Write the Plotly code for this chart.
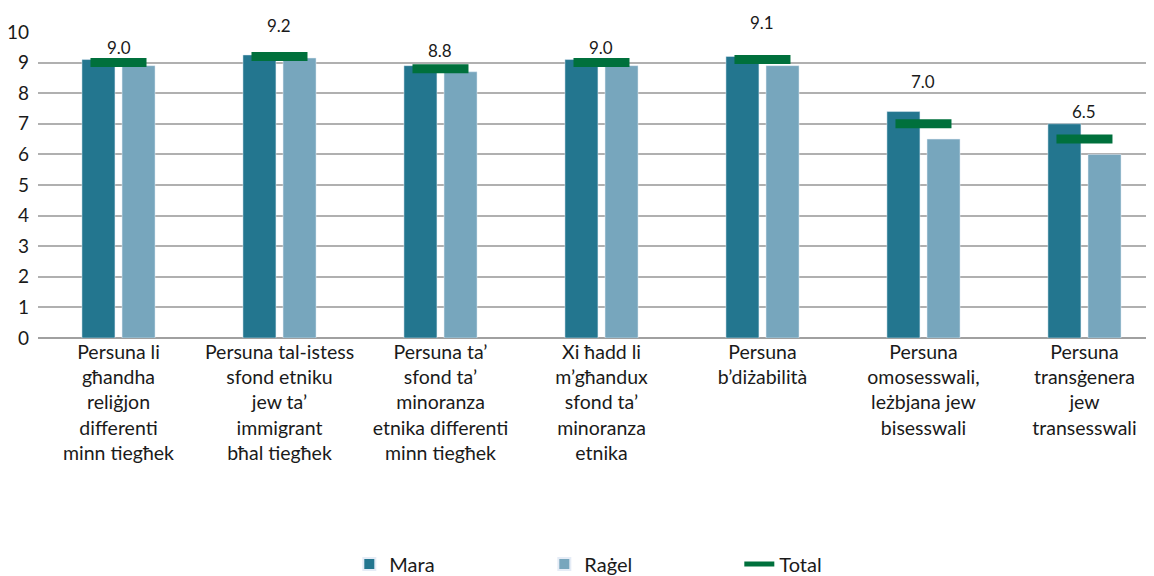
import plotly.graph_objects as go

# categories (Maltese labels, wrapped as in the original)
categories = [
    "Persuna li<br>għandha<br>reliġjon<br>differenti<br>minn tiegħek",
    "Persuna tal-istess<br>sfond etniku<br>jew ta’<br>immigrant<br>bħal tiegħek",
    "Persuna ta’<br>sfond ta’<br>minoranza<br>etnika differenti<br>minn tiegħek",
    "Xi ħadd li<br>m’għandux<br>sfond ta’<br>minoranza<br>etnika",
    "Persuna<br>b’diżabilità",
    "Persuna<br>omosesswali,<br>leżbjana jew<br>bisesswali",
    "Persuna<br>transġenera<br>jew<br>transesswali",
]

mara = [9.1, 9.25, 8.9, 9.1, 9.2, 7.4, 7.0]
ragel = [8.9, 9.15, 8.7, 8.9, 8.9, 6.5, 6.0]
total = [9.0, 9.2, 8.8, 9.0, 9.1, 7.0, 6.5]
total_labels = ["9.0", "9.2", "8.8", "9.0", "9.1", "7.0", "6.5"]

# pixel offset of each value label above its total marker
label_shift = [15, 31, 18, 15, 37, 42, 28]

MARA_COL = "#23768f"
RAGEL_COL = "#77a6bd"
TOTAL_COL = "#00703c"
FONT = "Lato, 'Noto Sans', sans-serif"

fig = go.Figure()

fig.add_trace(go.Bar(
    x=categories, y=mara, name="Mara",
    marker_color=MARA_COL, width=0.205, offset=-0.227,
))
fig.add_trace(go.Bar(
    x=categories, y=ragel, name="Raġel",
    marker_color=RAGEL_COL, width=0.205, offset=0.022,
))

# total shown as a thick horizontal dash
fig.add_trace(go.Scatter(
    x=categories, y=total, mode="markers", showlegend=False,
    marker=dict(symbol="line-ew", size=40,
                line=dict(width=9, color=TOTAL_COL)),
    hoverinfo="y",
))
# legend entry for total
fig.add_trace(go.Scatter(
    x=[None], y=[None], mode="lines", name="Total",
    line=dict(color=TOTAL_COL, width=8),
))

for cat, val, txt, sh in zip(categories, total, total_labels, label_shift):
    fig.add_annotation(
        x=cat, y=val, text=txt, showarrow=False,
        yshift=sh, font=dict(size=17, color="#1a1a1a", family=FONT),
    )

# page body has an 8px default margin, so the figure is sized to fit
fig.update_layout(
    width=1146, height=568,
    barmode="overlay",
    paper_bgcolor="white", plot_bgcolor="white",
    margin=dict(l=30, r=4, t=24, b=238),
    font=dict(family=FONT, size=19.5, color="#1a1a1a"),
    xaxis=dict(
        range=[-0.5, 6.407],
        showgrid=False, ticks="", tickfont=dict(size=19.5),
        showline=False, automargin=False,
    ),
    yaxis=dict(
        range=[0, 10], dtick=1, showgrid=True,
        gridcolor="#b0b0b0", gridwidth=1.5,
        zeroline=True, zerolinecolor="#a0a0a0", zerolinewidth=1.5,
        tickfont=dict(size=19), ticks="", ticklabelstandoff=8,
        automargin=False,
    ),
    legend=dict(
        orientation="h", yref="container", y=0.021, yanchor="middle",
        x=0.543, xanchor="center", font=dict(size=20),
        entrywidth=150, itemsizing="constant",
    ),
)

fig.write_html("out.html")
